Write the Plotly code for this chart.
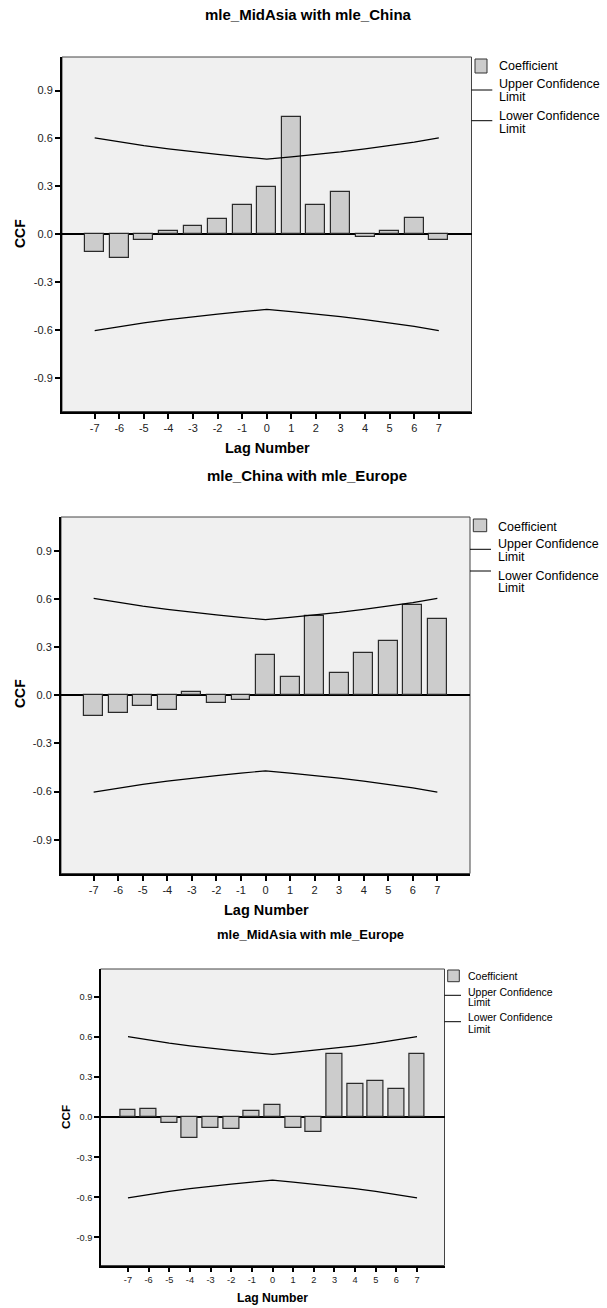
import plotly.graph_objects as go

# ---------------- data ----------------
lags = [-7, -6, -5, -4, -3, -2, -1, 0, 1, 2, 3, 4, 5, 6, 7]
lag_labels = ["-7", "-6", "-5", "-4", "-3", "-2", "-1", "0", "1", "2", "3", "4", "5", "6", "7"]

ccf_midasia_china = [-0.108, -0.150, -0.034, 0.019, 0.053, 0.097, 0.186, 0.294,
                     0.732, 0.182, 0.266, -0.015, 0.019, 0.099, -0.034]
ccf_china_europe = [-0.129, -0.109, -0.064, -0.092, 0.018, -0.049, -0.031, 0.251,
                    0.115, 0.495, 0.136, 0.265, 0.337, 0.563, 0.473]
ccf_midasia_europe = [0.058, 0.063, -0.040, -0.153, -0.080, -0.085, 0.048, 0.093,
                      -0.078, -0.110, 0.470, 0.248, 0.275, 0.208, 0.470]

upper_limit = [0.603, 0.577, 0.555, 0.535, 0.516, 0.500, 0.485, 0.471,
               0.485, 0.500, 0.516, 0.535, 0.555, 0.577, 0.603]
lower_limit = [-0.603, -0.577, -0.555, -0.535, -0.516, -0.500, -0.485, -0.471,
               -0.485, -0.500, -0.516, -0.535, -0.555, -0.577, -0.603]

y_tick_vals = [-0.9, -0.6, -0.3, 0.0, 0.3, 0.6, 0.9]
y_tick_labels = ["-0.9", "-0.6", "-0.3", "0.0", "0.3", "0.6", "0.9"]

titles = ["mle_MidAsia with mle_China", "mle_China with mle_Europe", "mle_MidAsia with mle_Europe"]
series = [ccf_midasia_china, ccf_china_europe, ccf_midasia_europe]

# ---------------- layout geometry (pixels) ----------------
W, H = 607, 1308
FONT = "Liberation Sans, Arial, sans-serif"

def px(x):
    return x / W

def py(y):
    return 1 - y / H

panels = [
    dict(l=62, r=471.5, t=57, b=411.5, s=1.0, title=(308, 14), tsize=15, lag=(267, 448), ccf=(20, 234),
         leg=dict(box=(475, 487, 59, 73), tx=496.5, coef=65.7, up_line=90, up=(84.3, 96.7),
                  lo_line=120.7, lo=(116, 128.7), line_end=492.3)),
    dict(l=61, r=470, t=517, b=873.5, s=1.0, title=(307, 475), tsize=15, lag=(266, 910), ccf=(20, 694),
         leg=dict(box=(473.3, 486.7, 519, 531.7), tx=495.7, coef=526.7, up_line=549.3, up=(544.3, 556.7),
                  lo_line=571, lo=(575.7, 588.3), line_end=491)),
    dict(l=100.5, r=444.5, t=969, b=1265.5, s=0.84, title=(310, 934), tsize=13, lag=(272.5, 1298), ccf=(65, 1117),
         leg=dict(box=(447.7, 459.3, 970, 981.7), tx=465.7, coef=975.7, up_line=995.3, up=(991.7, 1001.7),
                  lo_line=1021.7, lo=(1016.7, 1029), line_end=461)),
]

fig = go.Figure()
shapes = []
annotations = []

for i, (p, vals, title) in enumerate(zip(panels, series, titles)):
    n = "" if i == 0 else str(i + 1)
    xa, ya = "x" + n, "y" + n
    s = p["s"]
    fig.add_trace(go.Bar(x=lags, y=vals, xaxis=xa, yaxis=ya, width=0.77,
                         marker=dict(color="#cccccc", line=dict(color="#2a2a2a", width=1.2)),
                         showlegend=False, hoverinfo="x+y"))
    fig.add_trace(go.Scatter(x=lags, y=upper_limit, xaxis=xa, yaxis=ya, mode="lines",
                             line=dict(color="#000000", width=1.2), showlegend=False))
    fig.add_trace(go.Scatter(x=lags, y=lower_limit, xaxis=xa, yaxis=ya, mode="lines",
                             line=dict(color="#000000", width=1.2), showlegend=False))

    tick_font = dict(family=FONT, size=11 * s, color="#222222")
    fig.update_layout(**{
        "xaxis" + n: dict(domain=[px(p["l"]), px(p["r"])], anchor=ya, range=[-8.33, 8.33],
                          tickmode="array", tickvals=lags, ticktext=lag_labels,
                          ticks="outside", ticklen=5 * s, tickwidth=1.5, tickcolor="#000",
                          showline=True, linecolor="#000", linewidth=2, mirror=False,
                          showgrid=False, zeroline=False, tickfont=tick_font, fixedrange=True),
        "yaxis" + n: dict(domain=[py(p["b"]), py(p["t"])], anchor=xa, range=[-1.11, 1.11],
                          tickmode="array", tickvals=y_tick_vals, ticktext=y_tick_labels,
                          ticks="outside", ticklen=5 * s, tickwidth=1.5, tickcolor="#000",
                          showline=True, linecolor="#000", linewidth=2, mirror=False,
                          showgrid=False, zeroline=True, zerolinecolor="#000", zerolinewidth=2.2,
                          tickfont=tick_font, fixedrange=True),
    })

    shapes.append(dict(type="rect", xref="paper", yref="paper",
                       x0=px(p["l"]), x1=px(p["r"]), y0=py(p["b"]), y1=py(p["t"]),
                       line=dict(color="#444444", width=1), fillcolor="rgba(0,0,0,0)", layer="below"))

    annotations.append(dict(text="<b>%s</b>" % title, x=px(p["title"][0]), y=py(p["title"][1]),
                            xref="paper", yref="paper", showarrow=False, xanchor="center", yanchor="middle",
                            font=dict(family=FONT, size=p["tsize"], color="#000")))
    annotations.append(dict(text="<b>Lag Number</b>", x=px(p["lag"][0]), y=py(p["lag"][1]),
                            xref="paper", yref="paper", showarrow=False, xanchor="center", yanchor="middle",
                            font=dict(family=FONT, size=14.5 * s, color="#000")))
    annotations.append(dict(text="<b>CCF</b>", x=px(p["ccf"][0]), y=py(p["ccf"][1]), textangle=-90,
                            xref="paper", yref="paper", showarrow=False, xanchor="center", yanchor="middle",
                            font=dict(family=FONT, size=14 * s, color="#000")))

    lg = p["leg"]
    bx0, bx1, by0, by1 = lg["box"]
    shapes.append(dict(type="rect", xref="paper", yref="paper", x0=px(bx0), x1=px(bx1),
                       y0=py(by1), y1=py(by0), fillcolor="#cccccc", line=dict(color="#333333", width=1)))
    for yl in (lg["up_line"], lg["lo_line"]):
        shapes.append(dict(type="line", xref="paper", yref="paper", x0=px(p["r"]), x1=px(lg["line_end"]),
                           y0=py(yl), y1=py(yl), line=dict(color="#000", width=1)))
    leg_font = dict(family=FONT, size=12.5 * s, color="#000")
    for txt, yy in [("Coefficient", lg["coef"]), ("Upper Confidence", lg["up"][0]), ("Limit", lg["up"][1]),
                    ("Lower Confidence", lg["lo"][0]), ("Limit", lg["lo"][1])]:
        annotations.append(dict(text=txt, x=px(lg["tx"]), y=py(yy), xref="paper", yref="paper",
                                showarrow=False, xanchor="left", yanchor="middle", font=leg_font))

fig.update_layout(width=W, height=H, margin=dict(l=0, r=0, t=0, b=0),
                  paper_bgcolor="#ffffff", plot_bgcolor="#f0f0f0",
                  bargap=0, shapes=shapes, annotations=annotations,
                  font=dict(family=FONT, color="#000"), showlegend=False)

fig.write_html("out.html", config={"displayModeBar": False})
